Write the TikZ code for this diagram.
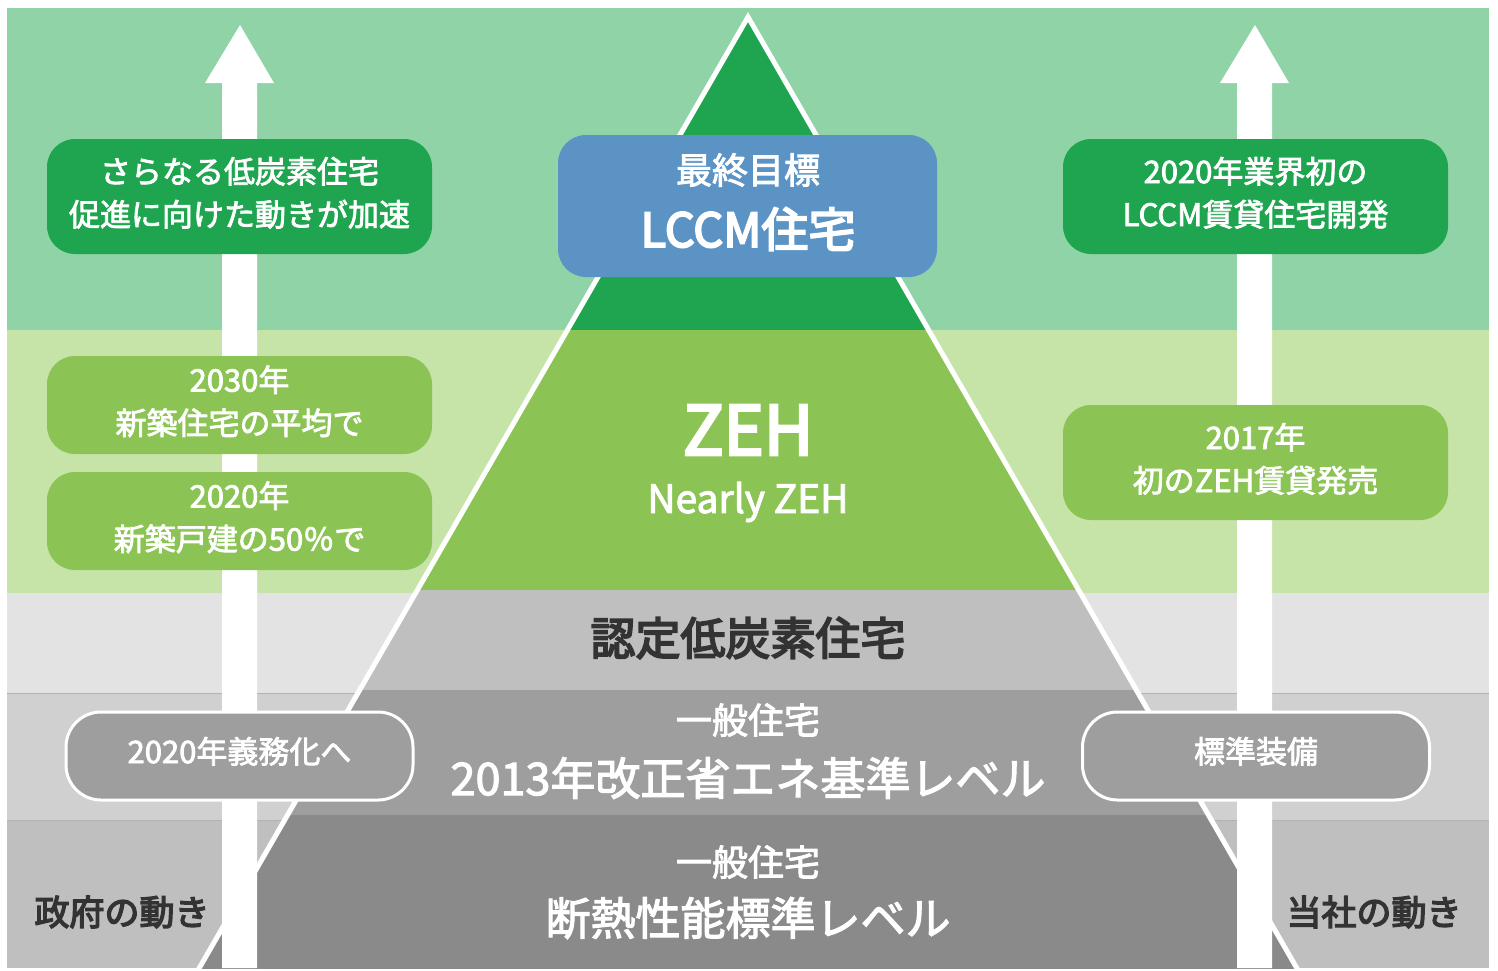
\documentclass[tikz,border=0pt]{standalone}
\usepackage{fontspec}
\setmainfont{Noto Sans CJK JP}
\newfontfamily\med[FakeBold=2.5]{Noto Sans CJK JP}
\newfontfamily\semi[FakeBold=4]{Noto Sans CJK JP}
\definecolor{mint}{HTML}{8FD3A7}
\definecolor{pale}{HTML}{C6E3A8}
\definecolor{leaf}{HTML}{8BC454}
\definecolor{forest}{HTML}{1FA54F}
\definecolor{sky}{HTML}{5B93C5}
\definecolor{grayA}{HTML}{E3E3E3}
\definecolor{grayB}{HTML}{D0D0D0}
\definecolor{grayC}{HTML}{BFBFBF}
\definecolor{stepA}{HTML}{BFBFBF}
\definecolor{stepB}{HTML}{9E9E9E}
\definecolor{stepC}{HTML}{8A8A8A}
\definecolor{ink}{HTML}{333333}
\begin{document}
\begin{tikzpicture}[x=1pt, y=-1pt]
  \tikzstyle{box}=[rounded corners=28, minimum width=385, minimum height=115, inner sep=0pt, text depth=10pt, align=center, text=white, font=\med\fontsize{31}{43}\selectfont]
  \tikzstyle{duty}=[rounded corners=35, draw=white, line width=3, fill=stepB, minimum width=347, minimum height=88, inner sep=0pt, text depth=12pt, text=white, font=\med\fontsize{31}{36}\selectfont]
  \tikzstyle{big}=[text=white, font=\med\fontsize{45}{48}\selectfont]
  \tikzstyle{small}=[text=white, font=\med\fontsize{36}{40}\selectfont]
  \tikzstyle{side}=[text=ink, font=\semi\fontsize{35}{38}\selectfont]

  \useasboundingbox (0,0) rectangle (1498,970);

  % bands
  \fill[mint]  (7,8)   rectangle (1489,330);
  \fill[pale]  (7,330) rectangle (1489,593);
  \fill[grayA] (7,593) rectangle (1489,693);
  \fill[grayB] (7,693) rectangle (1489,820);
  \fill[grayC] (7,820) rectangle (1489,968);
  \draw[black!30, line width=1] (7,693) -- (1489,693) (7,820) -- (1489,820);

  % pyramid
  \coordinate (apex)  at (748,17);
  \coordinate (left)  at (171,1017);
  \coordinate (right) at (1325,1017);
  \begin{scope}
    \clip (7,8) rectangle (1489,968);
    \begin{scope}
      \clip (apex) -- (left) -- (right) -- cycle;
      \fill[forest] (0,0)   rectangle (1498,330);
      \fill[leaf]   (0,330) rectangle (1498,590);
      \fill[stepA]  (0,590) rectangle (1498,690);
      \fill[stepB]  (0,690) rectangle (1498,815);
      \fill[stepC]  (0,815) rectangle (1498,1017);
    \end{scope}
    \draw[white, line width=5] (apex) -- (left) -- (right) -- cycle;
  \end{scope}

  % arrows
  \coordinate (govfoot) at (240,968);
  \coordinate (govtip)  at (240,25);
  \coordinate (comfoot) at (1255,968);
  \coordinate (comtip)  at (1255,25);
  \fill[white] (govfoot) ++(-18,0) -- ++(0,-885) -- ++(-17,0) -- (govtip)
    -- ++(34,58) -- ++(-17,0) -- ++(0,885) -- cycle;
  \fill[white] (comfoot) ++(-18,0) -- ++(0,-885) -- ++(-17,0) -- (comtip)
    -- ++(34,58) -- ++(-17,0) -- ++(0,885) -- cycle;

  % boxes
  \node[box, fill=forest] (govnext) at (239.5,196.5) {さらなる低炭素住宅\\促進に向けた動きが加速};
  \node[box, fill=forest] (comlccm) at (1255.5,196.5) {2020年業界初の\\LCCM賃貸住宅開発};
  \node[box, fill=sky, minimum width=379, minimum height=142] (goal) at (747.5,206) {};
  \node[small] (goaltop) at (748,170) {最終目標};
  \node[text=white, font=\semi\fontsize{47}{50}\selectfont] (goalname) at (748,229) {LCCM住宅};
  \node[box, fill=leaf, minimum height=98] (gov2030) at (239.5,405) {2030年\\新築住宅の平均で};
  \node[box, fill=leaf, minimum height=98] (gov2020) at (239.5,521) {2020年\\新築戸建の50％で};
  \node[box, fill=leaf] (com2017) at (1255.5,462.5) {2017年\\初のZEH賃貸発売};
  \node[duty] (govduty) at (239.5,756) {2020年義務化へ};
  \node[duty] (comstd)  at (1256,756) {標準装備};

  % pyramid texts
  \node[text=white, font=\semi\fontsize{68}{70}\selectfont] (zeh) at (748,430) {ZEH};
  \node[text=white, font=\med\fontsize{39}{42}\selectfont] (nearly) at (748,502) {Nearly ZEH};
  \node[text=ink, font=\semi\fontsize{45}{48}\selectfont] (nintei) at (748,638) {認定低炭素住宅};
  \node[small] (ippanA) at (748,720) {一般住宅};
  \node[big] (shoene) at (748,778) {2013年改正省エネ基準レベル};
  \node[small] (ippanB) at (748,862) {一般住宅};
  \node[big] (dannetsu) at (748,918) {断熱性能標準レベル};

  \node[side] (gov) at (122,912) {政府の動き};
  \node[side] (com) at (1374,912) {当社の動き};
\end{tikzpicture}
\end{document}
